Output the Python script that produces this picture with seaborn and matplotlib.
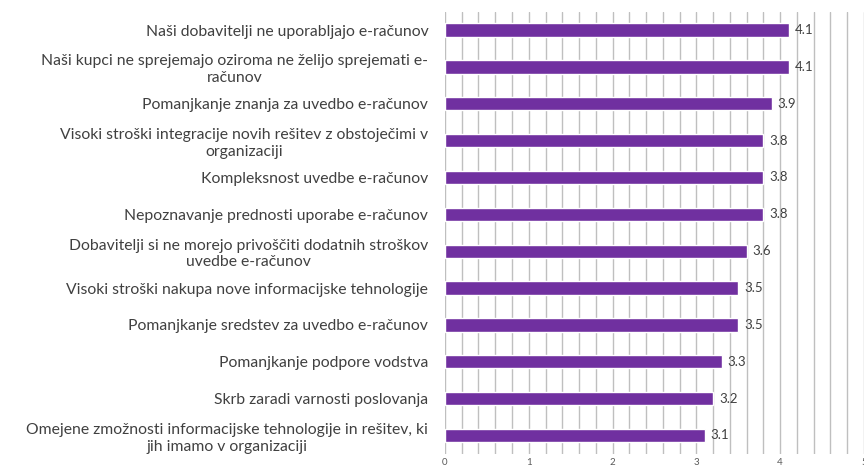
import matplotlib
matplotlib.use("Agg")
import matplotlib.pyplot as plt
import seaborn as sns
import numpy as np
import pandas as pd

categories = [
    "Naši dobavitelji ne uporabljajo e-računov",
    "Naši kupci ne sprejemajo oziroma ne želijo sprejemati e-\nračunov",
    "Pomanjkanje znanja za uvedbo e-računov",
    "Visoki stroški integracije novih rešitev z obstoječimi v\norganizaciji",
    "Kompleksnost uvedbe e-računov",
    "Nepoznavanje prednosti uporabe e-računov",
    "Dobavitelji si ne morejo privoščiti dodatnih stroškov\nuvedbe e-računov",
    "Visoki stroški nakupa nove informacijske tehnologije",
    "Pomanjkanje sredstev za uvedbo e-računov",
    "Pomanjkanje podpore vodstva",
    "Skrb zaradi varnosti poslovanja",
    "Omejene zmožnosti informacijske tehnologije in rešitev, ki\njih imamo v organizaciji",
]
values = [4.1, 4.1, 3.9, 3.8, 3.8, 3.8, 3.6, 3.5, 3.5, 3.3, 3.2, 3.1]
x_ticks = [0, 1, 2, 3, 4, 5]

df = pd.DataFrame({"cat": categories, "val": values})

sns.set_theme(style="white")
plt.rcParams["font.family"] = ["Lato", "DejaVu Sans"]

fig = plt.figure(figsize=(8.64, 4.66), dpi=100)
ax = fig.add_axes([0.515, 0.026, 0.485, 0.949])

sns.barplot(data=df, x="val", y="cat", color="#7030A0", width=0.36,
            saturation=1, ax=ax, zorder=3)

ax.set_xlim(0, 5)
ax.set_xticks(x_ticks)
ax.set_xticks(np.arange(0, 5.01, 0.2), minor=True)
ax.grid(True, which="both", axis="x", color="#BFBFBF", linewidth=1.0, zorder=0)
ax.set_axisbelow(True)
for s in ax.spines.values():
    s.set_visible(False)
ax.set_xlabel("")
ax.set_ylabel("")
ax.tick_params(axis="x", which="both", length=0, labelsize=7, colors="#595959", pad=3)
ax.tick_params(axis="y", length=0, labelsize=11.3, colors="#404040", pad=12)
for lab in ax.get_yticklabels():
    lab.set_multialignment("center")
    lab.set_linespacing(1.25)

for i, v in enumerate(values):
    ax.text(v + 0.07, i, f"{v:.1f}", va="center", ha="left", fontsize=9.5, color="#404040")

fig.savefig("out.png", dpi=100)
